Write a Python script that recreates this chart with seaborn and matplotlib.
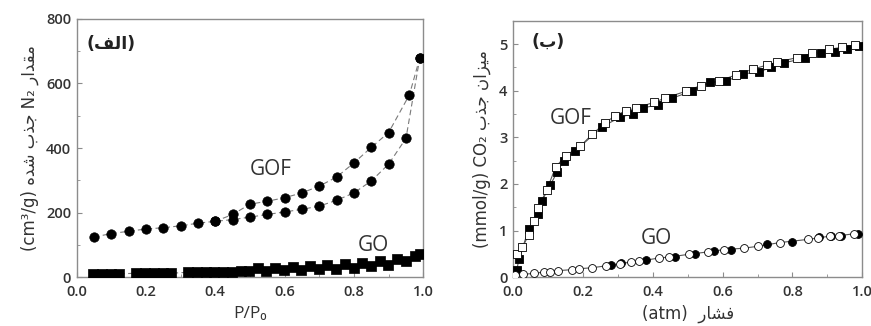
import matplotlib
matplotlib.use("Agg")
import matplotlib.pyplot as plt
import seaborn as sns
from matplotlib.ticker import MultipleLocator

# ---- data ----
# left: N2 isotherm, GOF adsorption (lower) and desorption (upper) branches
gof_n2_ads_x = [0.05, 0.10, 0.15, 0.20, 0.25, 0.30, 0.35, 0.40, 0.45, 0.50, 0.55, 0.60,
                0.65, 0.70, 0.75, 0.80, 0.85, 0.90, 0.95, 0.99]
gof_n2_ads_y = [124, 135, 142, 149, 153, 159, 167, 173, 178, 186, 194, 202,
                210, 220, 238, 261, 298, 350, 430, 680]
gof_n2_des_x = [0.99, 0.96, 0.90, 0.85, 0.80, 0.75, 0.70, 0.65, 0.60, 0.55, 0.50, 0.45, 0.40]
gof_n2_des_y = [680, 565, 448, 402, 354, 310, 282, 261, 246, 235, 226, 194, 173]

go_n2_x = [0.046, 0.072, 0.098, 0.123, 0.171, 0.197, 0.223, 0.248, 0.273, 0.321, 0.346,
           0.372, 0.397, 0.422, 0.448, 0.473, 0.498, 0.522, 0.547, 0.573, 0.598, 0.623,
           0.648, 0.673, 0.698, 0.723, 0.748, 0.773, 0.799, 0.824, 0.849, 0.874, 0.899,
           0.924, 0.949, 0.975, 0.991]
go_n2_y = [10, 10, 10, 10, 12, 12, 12, 12, 12, 15, 15, 15, 15, 16, 17, 18, 18, 28, 20,
           29, 22, 30, 22, 33, 24, 37, 26, 40, 28, 45, 33, 50, 38, 56, 51, 66, 73]

# right: CO2 isotherm
gof_co2_ads_x = [0.011, 0.017, 0.045, 0.072, 0.083, 0.107, 0.126, 0.145, 0.177, 0.256,
                 0.306, 0.344, 0.372, 0.415, 0.455, 0.512, 0.564, 0.611, 0.659, 0.705,
                 0.740, 0.776, 0.836, 0.881, 0.922, 0.957, 0.991]
gof_co2_ads_y = [0.16, 0.39, 1.03, 1.36, 1.64, 1.98, 2.25, 2.50, 2.70, 3.23,
                 3.43, 3.51, 3.63, 3.70, 3.84, 3.99, 4.18, 4.21, 4.36, 4.41,
                 4.50, 4.60, 4.70, 4.82, 4.84, 4.89, 4.96]
gof_co2_des_x = [0.011, 0.027, 0.045, 0.059, 0.072, 0.096, 0.122, 0.151, 0.193, 0.227,
                 0.263, 0.291, 0.323, 0.353, 0.403, 0.435, 0.495, 0.537, 0.590, 0.638,
                 0.686, 0.726, 0.755, 0.812, 0.855, 0.905, 0.941, 0.979]
gof_co2_des_y = [0.50, 0.64, 0.91, 1.21, 1.49, 1.86, 2.36, 2.61, 2.81, 3.07,
                 3.30, 3.46, 3.57, 3.63, 3.75, 3.84, 3.99, 4.11, 4.21, 4.34,
                 4.46, 4.55, 4.61, 4.71, 4.80, 4.89, 4.93, 4.98]

go_co2_open_x = [0.005, 0.03, 0.06, 0.09, 0.105, 0.13, 0.17, 0.19, 0.225, 0.265, 0.305,
                 0.337, 0.36, 0.418, 0.447, 0.504, 0.557, 0.603, 0.66, 0.70, 0.763,
                 0.845, 0.874, 0.907, 0.934, 0.977]
go_co2_open_y = [0.05, 0.06, 0.08, 0.11, 0.12, 0.14, 0.16, 0.18, 0.20, 0.24, 0.29,
                 0.32, 0.34, 0.41, 0.43, 0.49, 0.54, 0.59, 0.62, 0.66, 0.74,
                 0.81, 0.84, 0.88, 0.89, 0.93]
go_co2_fill_x = [0.28, 0.31, 0.38, 0.464, 0.52, 0.575, 0.623, 0.727, 0.80, 0.877, 0.91,
                 0.94, 0.987]
go_co2_fill_y = [0.26, 0.30, 0.36, 0.44, 0.50, 0.55, 0.59, 0.70, 0.76, 0.85, 0.88,
                 0.89, 0.93]

# Persian labels (presentation forms in visual order so they render joined, RTL)
ylab_left = "(cm³/g) \uFEE9\uFEAA\uFEB7 \uFE8F\uFEAC\uFE9F N\u2082 \uFEAD\uFE8D\uFEAA\uFED8\uFEE3"
ylab_right = "(mmol/g) CO\u2082 \uFE8F\uFEAC\uFE9F \uFEE5\uFE8D\uFEB0\uFEF4\uFEE3"
xlab_left = "P/P\u2080"
xlab_right = "(atm)  \uFEAD\uFE8E\uFEB8\uFED3"
panel_left = "(\uFED2\uFEDF\uFE8D)"
panel_right = "(\uFE8F)"

sns.set_style("ticks")
plt.rcParams["font.family"] = ["Open Sans", "DejaVu Sans"]
arabic_font = ["DejaVu Sans", "Open Sans"]

fig = plt.figure(figsize=(8.71, 3.26), dpi=100)
ax1 = fig.add_axes([0.088, 0.150, 0.398, 0.792])
ax2 = fig.add_axes([0.589, 0.150, 0.401, 0.786])

# left panel
line_kw = dict(sort=False, estimator=None, color="#7a7a7a", linewidth=0.8, legend=False)
for xs, ys in [(gof_n2_ads_x, gof_n2_ads_y), (gof_n2_des_x, gof_n2_des_y)]:
    sns.lineplot(x=xs, y=ys, ax=ax1, linestyle=(0, (5, 3)), **line_kw)
    sns.scatterplot(x=xs, y=ys, ax=ax1, marker="o", s=46, color="black",
                    edgecolor="black", linewidth=0.5, zorder=3)
sns.lineplot(x=go_n2_x, y=go_n2_y, ax=ax1, linestyle=(0, (5, 3)), **line_kw)
sns.scatterplot(x=go_n2_x, y=go_n2_y, ax=ax1, marker="s", s=50, color="black",
                edgecolor="black", linewidth=0.5, zorder=3)

ax1.set_xlim(0, 1.0)
ax1.set_ylim(0, 800)
ax1.xaxis.set_major_locator(MultipleLocator(0.2))
ax1.xaxis.set_minor_locator(MultipleLocator(0.1))
ax1.yaxis.set_major_locator(MultipleLocator(200))
ax1.yaxis.set_minor_locator(MultipleLocator(100))
ax1.set_xlabel(xlab_left, fontsize=12.5, color="#333333", labelpad=5)
ax1.set_ylabel(ylab_left, fontsize=12, color="#333333", family=arabic_font, labelpad=5)
ax1.text(0.1, 722, panel_left, fontsize=12.5, fontweight="bold", family=arabic_font,
         ha="center", va="center", color="#222222")
ax1.text(0.56, 332, "GOF", fontsize=15, ha="center", va="center", color="#333333")
ax1.text(0.855, 99, "GO", fontsize=15, ha="center", va="center", color="#333333")

# right panel
line_kw2 = dict(sort=False, estimator=None, color="#555555", linewidth=0.8, legend=False)
sns.lineplot(x=gof_co2_ads_x, y=gof_co2_ads_y, ax=ax2, **line_kw2)
sns.lineplot(x=gof_co2_des_x, y=gof_co2_des_y, ax=ax2, **line_kw2)
sns.lineplot(x=go_co2_open_x, y=go_co2_open_y, ax=ax2, **line_kw2)
sns.scatterplot(x=gof_co2_ads_x, y=gof_co2_ads_y, ax=ax2, marker="s", s=32,
                color="black", edgecolor="black", linewidth=0.6, zorder=3)
sns.scatterplot(x=gof_co2_des_x, y=gof_co2_des_y, ax=ax2, marker="s", s=32,
                color="white", edgecolor="black", linewidth=0.6, zorder=4)
sns.scatterplot(x=go_co2_fill_x, y=go_co2_fill_y, ax=ax2, marker="o", s=32,
                color="black", edgecolor="black", linewidth=0.6, zorder=3)
sns.scatterplot(x=go_co2_open_x, y=go_co2_open_y, ax=ax2, marker="o", s=32,
                color="white", edgecolor="black", linewidth=0.6, zorder=4)

ax2.set_xlim(0, 1.0)
ax2.set_ylim(0, 5.5)
ax2.xaxis.set_major_locator(MultipleLocator(0.2))
ax2.xaxis.set_minor_locator(MultipleLocator(0.1))
ax2.yaxis.set_major_locator(MultipleLocator(1))
ax2.yaxis.set_minor_locator(MultipleLocator(0.5))
ax2.set_xlabel(xlab_right, fontsize=12, color="#333333", family=arabic_font, labelpad=4)
ax2.set_ylabel(ylab_right, fontsize=12, color="#333333", family=arabic_font, labelpad=6)
ax2.text(0.1, 5.06, panel_right, fontsize=12.5, fontweight="bold", family=arabic_font,
         ha="center", va="center", color="#222222")
ax2.text(0.165, 3.4, "GOF", fontsize=15, ha="center", va="center", color="#333333")
ax2.text(0.41, 0.83, "GO", fontsize=15, ha="center", va="center", color="#333333")

for ax in (ax1, ax2):
    for sp in ax.spines.values():
        sp.set_visible(True)
        sp.set_color("#8c8c8c")
        sp.set_linewidth(1.0)
    ax.tick_params(which="both", direction="in", colors="#8c8c8c",
                   labelcolor="#333333", labelsize=10.5, top=False, right=False)
    ax.tick_params(which="major", length=3.5)
    ax.tick_params(which="minor", length=2)
    ax.tick_params(axis="x", pad=6)
    ax.tick_params(axis="y", pad=4)
    ax.set_xticklabels([f"{v:.1f}" for v in ax.get_xticks()])
    for lab in ax.get_xticklabels() + ax.get_yticklabels():
        lab.set_fontweight("semibold")

fig.savefig("out.png", dpi=100)
